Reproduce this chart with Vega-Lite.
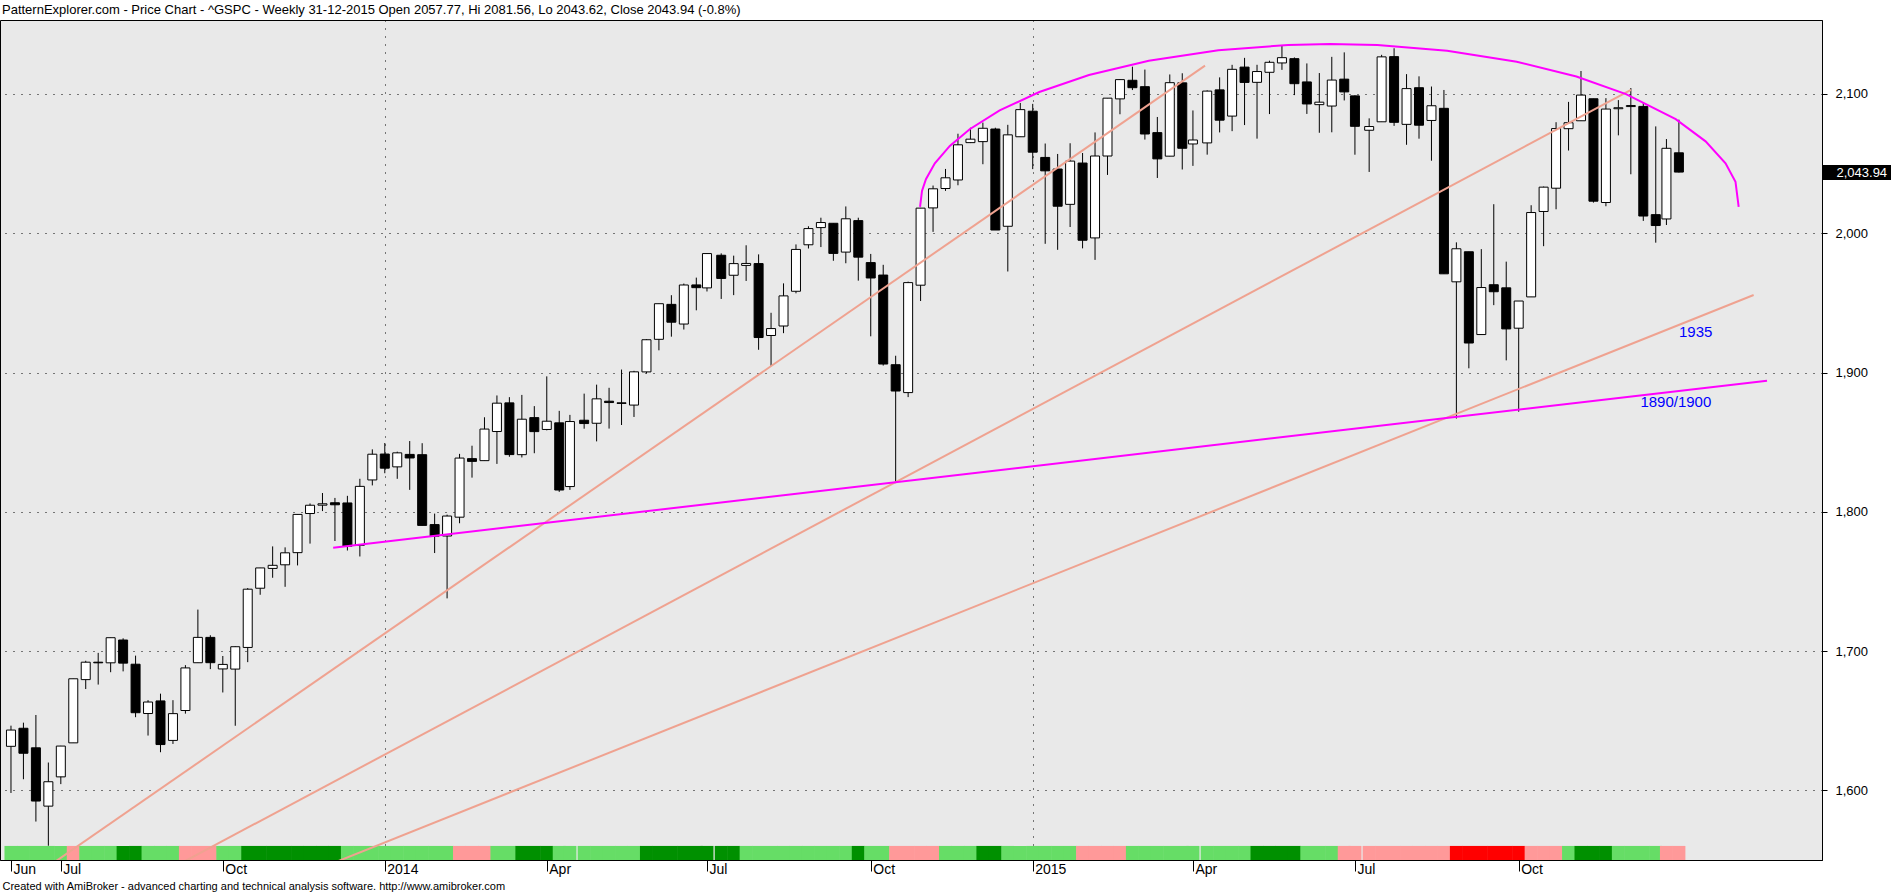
{
"$schema": "https://vega.github.io/schema/vega-lite/v6.json",
"width": 1822, "height": 840,
"autosize": "none",
"padding": {"left": 0, "top": 20, "right": 69, "bottom": 32},
"background": "white",
"config": {"view": {"fill": "#E9E9E9", "stroke": "black", "strokeWidth": 1}},
"title": {"text": "PatternExplorer.com - Price Chart - ^GSPC - Weekly 31-12-2015 Open 2057.77, Hi 2081.56, Lo 2043.62, Close 2043.94 (-0.8%)", "anchor": "start", "frame": "group", "font": "Liberation Sans", "fontSize": 13, "fontWeight": "normal", "color": "black", "offset": 3, "dx": 2},
"datasets": {
"weeks": [
{"date":"2013-06-07","open":1631.71,"high":1646.53,"low":1598.23,"close":1643.38,"signal":"lg"},
{"date":"2013-06-14","open":1644.67,"high":1648.69,"low":1608.07,"close":1626.73,"signal":"lg"},
{"date":"2013-06-21","open":1630.64,"high":1654.19,"low":1577.70,"close":1592.43,"signal":"lg"},
{"date":"2013-06-28","open":1588.77,"high":1620.07,"low":1560.33,"close":1606.28,"signal":"lg"},
{"date":"2013-07-05","open":1609.78,"high":1632.07,"low":1604.57,"close":1631.89,"signal":"lg"},
{"date":"2013-07-12","open":1634.20,"high":1680.19,"low":1634.20,"close":1680.19,"signal":"pk"},
{"date":"2013-07-19","open":1679.59,"high":1693.12,"low":1672.83,"close":1692.09,"signal":"lg"},
{"date":"2013-07-26","open":1692.09,"high":1698.78,"low":1676.03,"close":1691.65,"signal":"lg"},
{"date":"2013-08-02","open":1691.65,"high":1709.67,"low":1684.91,"close":1709.67,"signal":"lg"},
{"date":"2013-08-09","open":1708.01,"high":1709.24,"low":1685.50,"close":1691.42,"signal":"dg"},
{"date":"2013-08-16","open":1690.65,"high":1696.81,"low":1652.61,"close":1655.83,"signal":"dg"},
{"date":"2013-08-23","open":1655.25,"high":1664.85,"low":1639.43,"close":1663.50,"signal":"lg"},
{"date":"2013-08-30","open":1664.29,"high":1669.51,"low":1627.47,"close":1632.97,"signal":"lg"},
{"date":"2013-09-06","open":1635.95,"high":1664.83,"low":1633.41,"close":1655.17,"signal":"lg"},
{"date":"2013-09-13","open":1657.41,"high":1689.97,"low":1655.17,"close":1687.99,"signal":"pk"},
{"date":"2013-09-20","open":1691.70,"high":1729.86,"low":1691.70,"close":1709.91,"signal":"pk"},
{"date":"2013-09-27","open":1709.91,"high":1711.44,"low":1687.11,"close":1691.75,"signal":"pk"},
{"date":"2013-10-04","open":1687.26,"high":1696.55,"low":1670.36,"close":1690.50,"signal":"lg"},
{"date":"2013-10-11","open":1687.15,"high":1703.44,"low":1646.47,"close":1703.20,"signal":"lg"},
{"date":"2013-10-18","open":1702.68,"high":1745.31,"low":1692.13,"close":1744.50,"signal":"dg"},
{"date":"2013-10-25","open":1745.20,"high":1759.82,"low":1740.50,"close":1759.77,"signal":"dg"},
{"date":"2013-11-01","open":1759.42,"high":1775.22,"low":1752.70,"close":1761.64,"signal":"dg"},
{"date":"2013-11-08","open":1762.01,"high":1774.54,"low":1746.20,"close":1770.61,"signal":"dg"},
{"date":"2013-11-15","open":1770.74,"high":1798.22,"low":1761.56,"close":1798.18,"signal":"dg"},
{"date":"2013-11-22","open":1798.82,"high":1806.04,"low":1777.23,"close":1804.76,"signal":"dg"},
{"date":"2013-11-29","open":1804.82,"high":1813.55,"low":1800.58,"close":1805.81,"signal":"dg"},
{"date":"2013-12-06","open":1806.55,"high":1810.02,"low":1779.09,"close":1805.09,"signal":"dg"},
{"date":"2013-12-13","open":1806.40,"high":1811.52,"low":1772.28,"close":1775.32,"signal":"lg"},
{"date":"2013-12-20","open":1776.01,"high":1823.75,"low":1767.99,"close":1818.32,"signal":"lg"},
{"date":"2013-12-27","open":1822.92,"high":1844.89,"low":1819.00,"close":1841.40,"signal":"lg"},
{"date":"2014-01-03","open":1841.52,"high":1849.44,"low":1827.74,"close":1831.37,"signal":"lg"},
{"date":"2014-01-10","open":1832.31,"high":1843.23,"low":1823.73,"close":1842.37,"signal":"lg"},
{"date":"2014-01-17","open":1841.26,"high":1850.84,"low":1815.80,"close":1838.70,"signal":"lg"},
{"date":"2014-01-24","open":1841.05,"high":1849.31,"low":1790.29,"close":1790.29,"signal":"lg"},
{"date":"2014-01-31","open":1790.88,"high":1798.77,"low":1770.45,"close":1782.59,"signal":"lg"},
{"date":"2014-02-07","open":1782.68,"high":1798.03,"low":1737.92,"close":1797.02,"signal":"lg"},
{"date":"2014-02-14","open":1796.20,"high":1841.65,"low":1791.83,"close":1838.63,"signal":"pk"},
{"date":"2014-02-21","open":1838.22,"high":1847.50,"low":1824.58,"close":1836.25,"signal":"pk"},
{"date":"2014-02-28","open":1836.78,"high":1867.92,"low":1836.78,"close":1859.45,"signal":"pk"},
{"date":"2014-03-07","open":1857.68,"high":1883.57,"low":1834.44,"close":1878.04,"signal":"lg"},
{"date":"2014-03-14","open":1878.26,"high":1882.35,"low":1839.57,"close":1841.13,"signal":"lg"},
{"date":"2014-03-21","open":1841.07,"high":1883.97,"low":1839.07,"close":1866.52,"signal":"dg"},
{"date":"2014-03-28","open":1867.67,"high":1875.92,"low":1842.11,"close":1857.62,"signal":"dg"},
{"date":"2014-04-04","open":1859.16,"high":1897.28,"low":1858.52,"close":1865.09,"signal":"dg"},
{"date":"2014-04-11","open":1863.92,"high":1872.53,"low":1814.36,"close":1815.69,"signal":"lg"},
{"date":"2014-04-17","open":1818.18,"high":1869.63,"low":1815.80,"close":1864.85,"signal":"lg"},
{"date":"2014-04-25","open":1865.79,"high":1884.89,"low":1859.70,"close":1863.40,"signal":"lg"},
{"date":"2014-05-02","open":1863.62,"high":1891.33,"low":1850.61,"close":1881.14,"signal":"lg"},
{"date":"2014-05-09","open":1879.45,"high":1889.07,"low":1859.79,"close":1878.48,"signal":"lg"},
{"date":"2014-05-16","open":1878.28,"high":1902.17,"low":1862.36,"close":1877.86,"signal":"lg"},
{"date":"2014-05-23","open":1876.66,"high":1901.26,"low":1868.14,"close":1900.53,"signal":"lg"},
{"date":"2014-05-30","open":1900.49,"high":1924.03,"low":1899.39,"close":1923.57,"signal":"dg"},
{"date":"2014-06-06","open":1923.87,"high":1949.44,"low":1915.98,"close":1949.44,"signal":"dg"},
{"date":"2014-06-13","open":1948.97,"high":1955.55,"low":1925.78,"close":1936.16,"signal":"dg"},
{"date":"2014-06-20","open":1934.84,"high":1963.91,"low":1930.91,"close":1962.87,"signal":"dg"},
{"date":"2014-06-27","open":1962.92,"high":1968.17,"low":1944.69,"close":1960.96,"signal":"dg"},
{"date":"2014-07-03","open":1960.79,"high":1985.59,"low":1958.22,"close":1985.44,"signal":"dg"},
{"date":"2014-07-11","open":1984.22,"high":1985.59,"low":1952.86,"close":1967.57,"signal":"dg"},
{"date":"2014-07-18","open":1969.86,"high":1983.94,"low":1955.59,"close":1978.22,"signal":"dg"},
{"date":"2014-07-25","open":1976.93,"high":1991.39,"low":1965.77,"close":1978.34,"signal":"lg"},
{"date":"2014-08-01","open":1978.25,"high":1984.85,"low":1916.37,"close":1925.15,"signal":"lg"},
{"date":"2014-08-08","open":1926.62,"high":1942.92,"low":1904.78,"close":1931.59,"signal":"lg"},
{"date":"2014-08-15","open":1933.43,"high":1964.04,"low":1928.29,"close":1955.06,"signal":"lg"},
{"date":"2014-08-22","open":1958.36,"high":1992.00,"low":1956.90,"close":1988.40,"signal":"lg"},
{"date":"2014-08-29","open":1991.74,"high":2005.04,"low":1989.06,"close":2003.37,"signal":"lg"},
{"date":"2014-09-05","open":2004.07,"high":2011.17,"low":1990.10,"close":2007.71,"signal":"lg"},
{"date":"2014-09-12","open":2007.17,"high":2007.17,"low":1980.26,"close":1985.54,"signal":"lg"},
{"date":"2014-09-19","open":1986.48,"high":2019.26,"low":1978.48,"close":2010.40,"signal":"lg"},
{"date":"2014-09-26","open":2009.08,"high":2011.18,"low":1965.99,"close":1982.85,"signal":"dg"},
{"date":"2014-10-03","open":1978.96,"high":1985.17,"low":1926.03,"close":1967.90,"signal":"lg"},
{"date":"2014-10-10","open":1970.01,"high":1977.37,"low":1905.03,"close":1906.13,"signal":"lg"},
{"date":"2014-10-17","open":1905.65,"high":1912.09,"low":1820.66,"close":1886.76,"signal":"pk"},
{"date":"2014-10-24","open":1885.62,"high":1965.27,"low":1882.39,"close":1964.58,"signal":"pk"},
{"date":"2014-10-31","open":1962.73,"high":2018.19,"low":1951.37,"close":2018.05,"signal":"pk"},
{"date":"2014-11-07","open":2018.21,"high":2034.26,"low":2001.01,"close":2031.92,"signal":"pk"},
{"date":"2014-11-14","open":2032.13,"high":2046.18,"low":2030.44,"close":2039.82,"signal":"lg"},
{"date":"2014-11-21","open":2038.26,"high":2071.46,"low":2034.46,"close":2063.50,"signal":"lg"},
{"date":"2014-11-28","open":2065.07,"high":2075.76,"low":2064.75,"close":2067.56,"signal":"lg"},
{"date":"2014-12-05","open":2065.78,"high":2079.47,"low":2049.57,"close":2075.37,"signal":"dg"},
{"date":"2014-12-12","open":2074.84,"high":2075.78,"low":2002.33,"close":2002.33,"signal":"dg"},
{"date":"2014-12-19","open":2005.03,"high":2077.85,"low":1972.56,"close":2070.65,"signal":"lg"},
{"date":"2014-12-26","open":2069.28,"high":2093.55,"low":2069.28,"close":2088.77,"signal":"lg"},
{"date":"2015-01-02","open":2087.63,"high":2092.90,"low":2046.04,"close":2058.20,"signal":"lg"},
{"date":"2015-01-09","open":2054.44,"high":2064.43,"low":1992.44,"close":2044.81,"signal":"lg"},
{"date":"2015-01-16","open":2046.13,"high":2056.93,"low":1988.12,"close":2019.42,"signal":"lg"},
{"date":"2015-01-23","open":2020.76,"high":2064.62,"low":2004.49,"close":2051.82,"signal":"lg"},
{"date":"2015-01-30","open":2050.42,"high":2057.62,"low":1989.18,"close":1994.99,"signal":"pk"},
{"date":"2015-02-06","open":1996.67,"high":2072.40,"low":1980.90,"close":2055.47,"signal":"pk"},
{"date":"2015-02-13","open":2055.47,"high":2097.03,"low":2041.88,"close":2096.99,"signal":"pk"},
{"date":"2015-02-20","open":2096.47,"high":2110.61,"low":2085.44,"close":2110.30,"signal":"pk"},
{"date":"2015-02-27","open":2109.83,"high":2119.59,"low":2102.80,"close":2104.50,"signal":"lg"},
{"date":"2015-03-06","open":2105.23,"high":2117.52,"low":2067.27,"close":2071.26,"signal":"lg"},
{"date":"2015-03-13","open":2072.25,"high":2083.49,"low":2039.69,"close":2053.40,"signal":"lg"},
{"date":"2015-03-20","open":2055.35,"high":2114.00,"low":2055.30,"close":2108.10,"signal":"lg"},
{"date":"2015-03-27","open":2107.99,"high":2114.86,"low":2045.79,"close":2061.02,"signal":"lg"},
{"date":"2015-04-02","open":2064.11,"high":2088.16,"low":2048.38,"close":2066.96,"signal":"lg"},
{"date":"2015-04-10","open":2064.87,"high":2102.61,"low":2056.44,"close":2102.06,"signal":"lg"},
{"date":"2015-04-17","open":2102.94,"high":2111.91,"low":2072.40,"close":2081.18,"signal":"lg"},
{"date":"2015-04-24","open":2084.11,"high":2120.92,"low":2073.30,"close":2117.69,"signal":"lg"},
{"date":"2015-05-01","open":2119.29,"high":2125.92,"low":2077.67,"close":2108.29,"signal":"lg"},
{"date":"2015-05-08","open":2108.35,"high":2120.95,"low":2067.93,"close":2116.10,"signal":"dg"},
{"date":"2015-05-15","open":2115.56,"high":2123.89,"low":2085.57,"close":2122.73,"signal":"dg"},
{"date":"2015-05-22","open":2122.27,"high":2134.72,"low":2117.30,"close":2126.06,"signal":"dg"},
{"date":"2015-05-29","open":2125.34,"high":2126.22,"low":2099.18,"close":2107.39,"signal":"dg"},
{"date":"2015-06-05","open":2108.64,"high":2121.92,"low":2085.67,"close":2092.83,"signal":"lg"},
{"date":"2015-06-12","open":2092.34,"high":2115.02,"low":2072.14,"close":2094.11,"signal":"lg"},
{"date":"2015-06-19","open":2091.34,"high":2126.65,"low":2072.49,"close":2109.99,"signal":"lg"},
{"date":"2015-06-26","open":2110.64,"high":2129.87,"low":2095.35,"close":2101.49,"signal":"pk"},
{"date":"2015-07-02","open":2098.63,"high":2099.00,"low":2056.40,"close":2076.78,"signal":"pk"},
{"date":"2015-07-10","open":2073.95,"high":2082.50,"low":2044.02,"close":2076.62,"signal":"pk"},
{"date":"2015-07-17","open":2080.03,"high":2128.10,"low":2080.00,"close":2126.64,"signal":"pk"},
{"date":"2015-07-24","open":2126.80,"high":2132.82,"low":2077.09,"close":2079.65,"signal":"pk"},
{"date":"2015-07-31","open":2078.19,"high":2114.24,"low":2063.52,"close":2103.84,"signal":"pk"},
{"date":"2015-08-07","open":2104.49,"high":2112.66,"low":2067.91,"close":2077.57,"signal":"pk"},
{"date":"2015-08-14","open":2080.98,"high":2105.35,"low":2052.09,"close":2091.54,"signal":"pk"},
{"date":"2015-08-21","open":2089.70,"high":2102.87,"low":1970.89,"close":1970.89,"signal":"pk"},
{"date":"2015-08-28","open":1965.15,"high":1993.48,"low":1867.01,"close":1988.87,"signal":"rd"},
{"date":"2015-09-04","open":1986.73,"high":1986.73,"low":1903.07,"close":1921.22,"signal":"rd"},
{"date":"2015-09-11","open":1927.30,"high":1988.63,"low":1927.30,"close":1961.05,"signal":"rd"},
{"date":"2015-09-18","open":1963.06,"high":2020.86,"low":1948.40,"close":1958.03,"signal":"rd"},
{"date":"2015-09-25","open":1960.84,"high":1979.64,"low":1908.77,"close":1931.34,"signal":"rd"},
{"date":"2015-10-02","open":1931.86,"high":1951.36,"low":1871.91,"close":1951.36,"signal":"rd"},
{"date":"2015-10-09","open":1954.33,"high":2020.13,"low":1954.33,"close":2014.89,"signal":"pk"},
{"date":"2015-10-16","open":2015.65,"high":2033.54,"low":1990.73,"close":2033.11,"signal":"pk"},
{"date":"2015-10-23","open":2032.35,"high":2079.74,"low":2017.22,"close":2075.15,"signal":"pk"},
{"date":"2015-10-30","open":2075.08,"high":2094.32,"low":2059.40,"close":2079.36,"signal":"lg"},
{"date":"2015-11-06","open":2080.76,"high":2116.48,"low":2080.76,"close":2099.20,"signal":"dg"},
{"date":"2015-11-13","open":2096.56,"high":2096.56,"low":2022.02,"close":2023.04,"signal":"dg"},
{"date":"2015-11-20","open":2022.08,"high":2097.00,"low":2019.39,"close":2089.17,"signal":"dg"},
{"date":"2015-11-27","open":2089.41,"high":2095.61,"low":2070.29,"close":2090.11,"signal":"lg"},
{"date":"2015-12-04","open":2090.95,"high":2104.27,"low":2042.35,"close":2091.69,"signal":"lg"},
{"date":"2015-12-11","open":2091.07,"high":2093.80,"low":2008.87,"close":2012.37,"signal":"lg"},
{"date":"2015-12-18","open":2013.37,"high":2076.72,"low":1993.26,"close":2005.55,"signal":"lg"},
{"date":"2015-12-24","open":2010.27,"high":2067.65,"low":2005.93,"close":2060.99,"signal":"pk"},
{"date":"2015-12-31","open":2057.77,"high":2081.56,"low":2043.62,"close":2043.94,"signal":"pk"}
],
"salmon": [
{"id":"A","date":"2013-06-16T22:00:00Z","price":1535.7},
{"id":"A","date":"2015-04-08T19:00:00Z","price":2120.3},
{"id":"B","date":"2013-08-23T19:00:00Z","price":1535.7},
{"id":"B","date":"2015-12-04T02:00:00Z","price":2102.9},
{"id":"C","date":"2013-11-11T05:00:00Z","price":1535.7},
{"id":"C","date":"2016-02-11T00:00:00Z","price":1955.7}
],
"magenta": [
{"id":"support","date":"2013-12-05T00:00:00Z","price":1774.3},
{"id":"support","date":"2016-02-18T12:00:00Z","price":1894.2},
{"id":"arc","date":"2014-10-30T17:00:00Z","price":2018.9},
{"id":"arc","date":"2014-10-31T19:00:00Z","price":2030.4},
{"id":"arc","date":"2014-11-03T00:00:00Z","price":2038.8},
{"id":"arc","date":"2014-11-08T00:00:00Z","price":2050.2},
{"id":"arc","date":"2014-11-16T10:00:00Z","price":2062.7},
{"id":"arc","date":"2014-11-27T14:00:00Z","price":2074.7},
{"id":"arc","date":"2014-12-14T10:00:00Z","price":2088.2},
{"id":"arc","date":"2015-01-05T17:00:00Z","price":2101.4},
{"id":"arc","date":"2015-02-02T14:00:00Z","price":2113.6},
{"id":"arc","date":"2015-03-08T05:00:00Z","price":2123.8},
{"id":"arc","date":"2015-04-16T07:00:00Z","price":2131.4},
{"id":"arc","date":"2015-05-25T10:00:00Z","price":2135.2},
{"id":"arc","date":"2015-06-18T02:00:00Z","price":2135.9},
{"id":"arc","date":"2015-07-14T14:00:00Z","price":2135.1},
{"id":"arc","date":"2015-08-22T19:00:00Z","price":2131.0},
{"id":"arc","date":"2015-09-30T22:00:00Z","price":2123.1},
{"id":"arc","date":"2015-11-03T10:00:00Z","price":2112.5},
{"id":"arc","date":"2015-12-01T07:00:00Z","price":2099.9},
{"id":"arc","date":"2015-12-29T05:00:00Z","price":2081.9},
{"id":"arc","date":"2016-01-15T00:00:00Z","price":2066.0},
{"id":"arc","date":"2016-01-26T05:00:00Z","price":2050.2},
{"id":"arc","date":"2016-01-31T19:00:00Z","price":2037.0},
{"id":"arc","date":"2016-02-02T14:00:00Z","price":2018.9}
],
"notes": [
{"date":"2016-01-09T10:00:00Z","price":1929.1,"label":"1935"},
{"date":"2015-12-29T07:00:00Z","price":1878.9,"label":"1890/1900"}
]
},
"layer": [
{
"data": {"name": "weeks"},
"mark": {"type": "bar", "width": 13},
"encoding": {
"x": {"field": "date", "type": "temporal", "scale": {"type": "utc", "domain": [{"year":2013,"month":6,"date":3,"hours":15,"minutes":30,"utc":true},{"year":2016,"month":3,"date":17,"hours":14,"utc":true}]}},
"y": {"datum": 1560.2, "type": "quantitative", "scale": {"domain": [1550.1, 2153.1], "nice": false, "zero": false}},
"y2": {"datum": 1550.1},
"color": {"field": "signal", "type": "nominal", "scale": {"domain": ["lg", "dg", "pk", "rd"], "range": ["#66DD66", "#009000", "#FF9999", "#FF0000"]}, "legend": null}
}
},
{
"data": {"name": "weeks"},
"mark": {"type": "rule", "color": "black", "strokeWidth": 1},
"encoding": {
"x": {"field": "date", "type": "temporal",
 "scale": {"type": "utc", "domain": [{"year":2013,"month":6,"date":3,"hours":15,"minutes":30,"utc":true},{"year":2016,"month":3,"date":17,"hours":14,"utc":true}]},
 "axis": {
  "values": [{"year":2013,"month":6,"date":7,"utc":true},{"year":2013,"month":7,"date":5,"utc":true},{"year":2013,"month":10,"date":4,"utc":true},{"year":2014,"month":1,"date":3,"utc":true},{"year":2014,"month":4,"date":4,"utc":true},{"year":2014,"month":7,"date":3,"utc":true},{"year":2014,"month":10,"date":3,"utc":true},{"year":2015,"month":1,"date":2,"utc":true},{"year":2015,"month":4,"date":2,"utc":true},{"year":2015,"month":7,"date":2,"utc":true},{"year":2015,"month":10,"date":2,"utc":true}],
  "labelExpr": "utcmonth(datum.value) == 0 ? utcFormat(datum.value, '%Y') : utcFormat(datum.value, '%b')",
  "labelAlign": "left", "labelBaseline": "top", "labelPadding": -9, "labelOffset": 2,
  "labelFont": "Liberation Sans", "labelFontSize": 14, "labelColor": "black",
  "labelOverlap": false, "labelFlush": false,
  "tickSize": 11, "tickColor": "black", "tickWidth": 1,
  "domainColor": "black", "domainWidth": 1,
  "grid": true, "gridColor": "black", "gridDash": [1, 7],
  "gridOpacity": {"condition": {"test": "utcmonth(datum.value) == 0", "value": 1}, "value": 0},
  "title": "Created with AmiBroker - advanced charting and technical analysis software. http://www.amibroker.com",
  "titleFont": "Liberation Sans", "titleFontSize": 11, "titleFontWeight": "normal", "titleColor": "black",
  "titleAnchor": "start", "titleAlign": "left", "titleX": 2, "titleY": 29, "titleBaseline": "alphabetic"
 }},
"y": {"field": "low", "type": "quantitative", "scale": {"domain": [1550.1, 2153.1], "nice": false, "zero": false},
 "axis": {
  "orient": "right",
  "values": [1600, 1700, 1800, 1900, 2000, 2043.94, 2100],
  "labelExpr": "datum.value == 2043.94 ? format(datum.value, ',.2f') : format(datum.value, ',')",
  "labelAlign": "left", "labelBaseline": "middle",
  "labelFont": "Liberation Sans",
  "labelFontSize": 13,
  "labelColor": {"condition": {"test": "datum.value == 2043.94", "value": "white"}, "value": "black"},
  "labelPadding": {"condition": {"test": "datum.value == 2043.94", "value": -55}, "value": 8},
  "labelOverlap": false, "labelFlush": false, "labelBound": false,
  "tickColor": "black",
  "tickSize": {"condition": {"test": "datum.value == 2043.94", "value": 69}, "value": 5},
  "tickWidth": {"condition": {"test": "datum.value == 2043.94", "value": 15}, "value": 1},
  "domainColor": "black", "domainWidth": 1,
  "grid": true, "gridColor": "black", "gridDash": [1, 7],
  "gridOpacity": {"condition": {"test": "datum.value == 2043.94", "value": 0}, "value": 1},
  "title": null
 }},
"y2": {"field": "high"}
}
},
{
"data": {"name": "weeks"},
"mark": {"type": "bar", "width": 9, "stroke": "black", "strokeWidth": 1},
"encoding": {
"x": {"field": "date", "type": "temporal", "scale": {"type": "utc"}},
"y": {"field": "open", "type": "quantitative", "scale": {"domain": [1550.1, 2153.1], "nice": false, "zero": false}},
"y2": {"field": "close"},
"color": {"condition": {"test": "datum.close > datum.open", "value": "white"}, "value": "black"}
}
},
{
"data": {"name": "salmon"},
"mark": {"type": "line", "color": "#EFA290", "strokeWidth": 2, "clip": true},
"encoding": {
"x": {"field": "date", "type": "temporal", "scale": {"type": "utc"}},
"y": {"field": "price", "type": "quantitative", "scale": {"domain": [1550.1, 2153.1], "nice": false, "zero": false}},
"detail": {"field": "id"}
}
},
{
"data": {"name": "magenta"},
"mark": {"type": "line", "color": "#FF00FF", "strokeWidth": 2, "clip": true},
"encoding": {
"x": {"field": "date", "type": "temporal", "scale": {"type": "utc"}},
"y": {"field": "price", "type": "quantitative", "scale": {"domain": [1550.1, 2153.1], "nice": false, "zero": false}},
"detail": {"field": "id"}
}
},
{
"data": {"name": "notes"},
"mark": {"type": "text", "font": "Liberation Sans", "fontSize": 15, "color": "#0000FF", "align": "center", "baseline": "middle"},
"encoding": {
"x": {"field": "date", "type": "temporal", "scale": {"type": "utc"}},
"y": {"field": "price", "type": "quantitative", "scale": {"domain": [1550.1, 2153.1], "nice": false, "zero": false}},
"text": {"field": "label"}
}
}
]
}
